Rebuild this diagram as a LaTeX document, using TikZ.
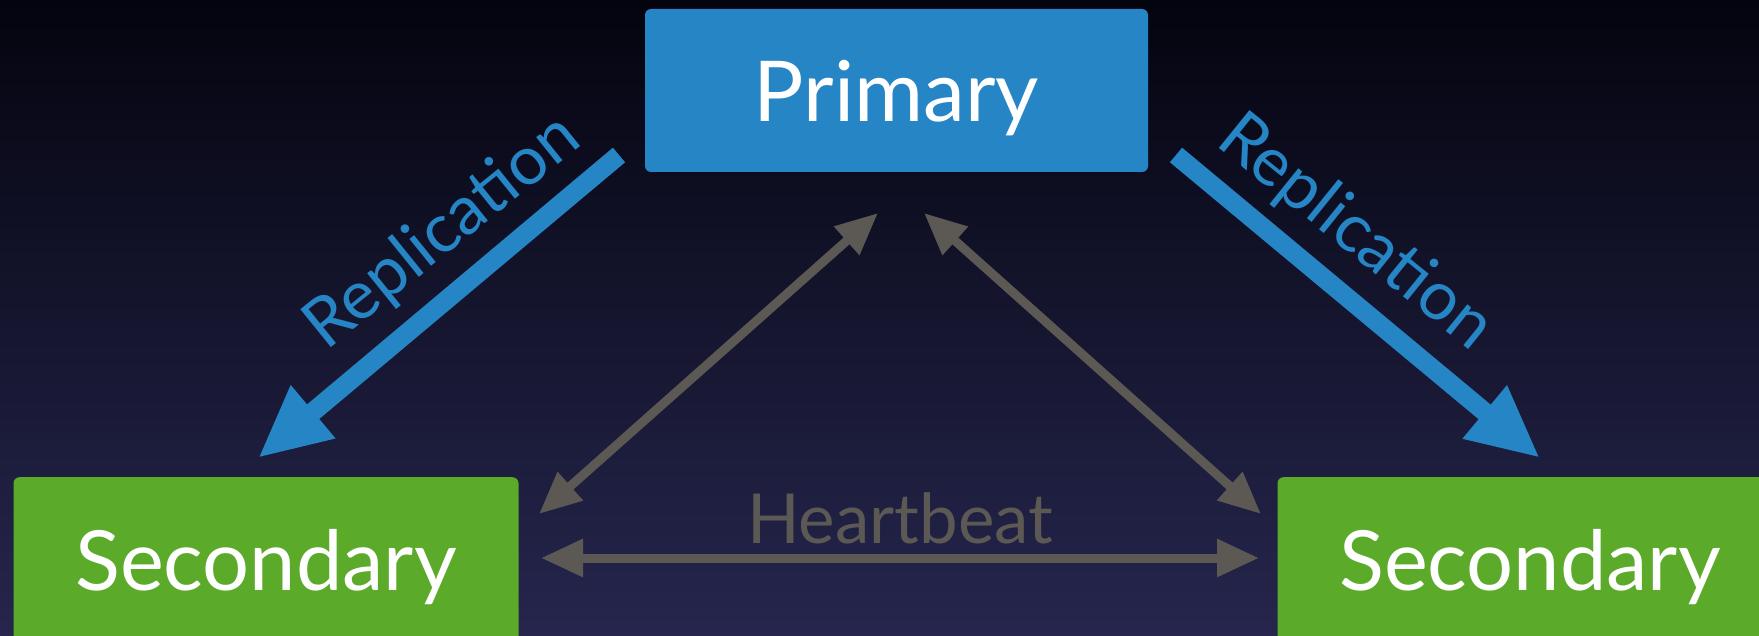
\documentclass[tikz,border=0pt]{standalone}
\usepackage{fontspec}
\setmainfont{Lato}
\usetikzlibrary{arrows.meta}
\definecolor{bgtop}{HTML}{04040F}
\definecolor{bgmid}{HTML}{0B0B28}
\definecolor{bgbot}{HTML}{26264E}
\definecolor{primblue}{HTML}{2585C5}
\definecolor{secgreen}{HTML}{5BAA2A}
\definecolor{hbgray}{HTML}{5C5955}
\tikzset{
  primbox/.style={fill=primblue, rounded corners=6pt, inner sep=0pt,
    minimum width=503pt, minimum height=163pt, text=white,
    font=\fontsize{84}{90}\selectfont, text height=63pt, text depth=0pt},
  secbox/.style={fill=secgreen, rounded corners=6pt, anchor=north,
    minimum width=505pt, inner xsep=0pt, inner ysep=53pt, text=white,
    font=\fontsize{83}{90}\selectfont, text height=60pt, text depth=100pt},
  reparrow/.style={draw=primblue, line width=19pt,
    -{Triangle[length=72pt,width=64pt]}},
  replabel/.style={text=primblue, anchor=base, inner sep=0pt,
    font=\fontsize{68}{76}\selectfont},
  hbarrow/.style={draw=hbgray, line width=9pt,
    {Triangle[length=42pt,width=36pt]}-{Triangle[length=42pt,width=36pt]}},
  hblabel/.style={text=hbgray, anchor=base, inner sep=0pt,
    font=\fontsize{69}{76}\selectfont}
}
\begin{document}
\begin{tikzpicture}[x=1pt,y=-1pt]
\useasboundingbox (0,0) rectangle (1759,636);
\shade[top color=bgtop, middle color=bgmid, bottom color=bgbot] (0,0) rectangle (1759,636);

\node[primbox] (prim) at (896.5,90.5) {Primary};
\node[secbox] (secL) at (266,477) {Secondary};
\node[secbox] (secR) at (1530,477) {Secondary};

% replication arrows
\coordinate (repLs) at (619,155);
\coordinate (repLe) at (258,458);
\coordinate (repRs) at (1176,155);
\coordinate (repRe) at (1540,458);
\draw[reparrow] (repLs) -- (repLe);
\draw[reparrow] (repRs) -- (repRe);
\node[replabel, rotate=38.9] (repLlab) at (455,248) {Replication};
\node[replabel, rotate=-38.9] (repRlab) at (1343,248) {Replication};

% heartbeat arrows
\coordinate (hbPL) at (878,213);
\coordinate (hbPR) at (924,213);
\coordinate (hbSL) at (539,514);
\coordinate (hbSR) at (1261,514);
\coordinate (hbHL) at (541,558);
\coordinate (hbHR) at (1259,558);
\draw[hbarrow] (hbPL) -- (hbSL);
\draw[hbarrow] (hbPR) -- (hbSR);
\draw[hbarrow] (hbHL) -- (hbHR);
\node[hblabel] (hblab) at (900,543) {Heartbeat};
\end{tikzpicture}
\end{document}
